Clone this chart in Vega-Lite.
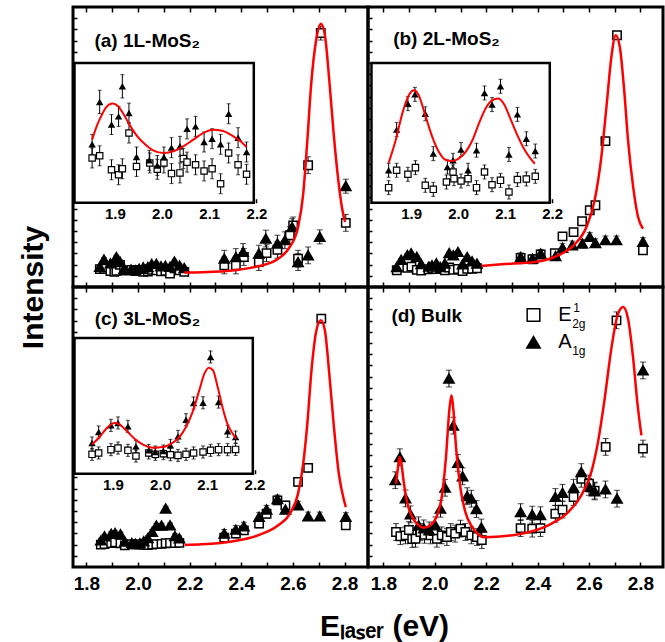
{
"$schema":"https://vega.github.io/schema/vega-lite/v6.json",
"padding":{"left":16,"top":4,"right":2,"bottom":0},
"config":{"font":"Liberation Sans","view":{"stroke":"black","strokeWidth":3},
"axis":{"domain":false,"grid":false,"tickColor":"black","tickWidth":1.5,"labelColor":"black","labelFont":"Liberation Sans","labelFontWeight":"bold","labelFontSize":19,"titleColor":"black","titleFont":"Liberation Sans","titleFontWeight":"bold"}},
"datasets":{
"a_pts":[
{"x":1.852,"y":7.21,"e":0.6,"m":"A"},{"x":1.868,"y":9.76,"e":0.7,"m":"A"},{"x":1.893,"y":8.40,"e":0.6,"m":"A"},{"x":1.908,"y":8.89,"e":0.6,"m":"A"},{"x":1.916,"y":10.70,"e":0.7,"m":"A"},{"x":1.930,"y":9.09,"e":0.6,"m":"A"},{"x":1.946,"y":6.45,"e":0.6,"m":"A"},{"x":1.973,"y":6.25,"e":0.6,"m":"A"},{"x":1.990,"y":5.94,"e":0.6,"m":"A"},{"x":2.004,"y":6.45,"e":0.6,"m":"A"},{"x":2.020,"y":7.01,"e":0.6,"m":"A"},{"x":2.038,"y":7.09,"e":0.6,"m":"A"},{"x":2.053,"y":8.14,"e":0.6,"m":"A"},{"x":2.071,"y":8.29,"e":0.6,"m":"A"},{"x":2.089,"y":7.35,"e":0.6,"m":"A"},{"x":2.106,"y":7.55,"e":0.6,"m":"A"},{"x":2.124,"y":7.21,"e":0.6,"m":"A"},{"x":2.141,"y":9.05,"e":0.6,"m":"A"},{"x":2.161,"y":7.61,"e":0.6,"m":"A"},{"x":2.179,"y":6.75,"e":0.6,"m":"A"},
{"x":1.852,"y":6.39,"e":0.6,"m":"E"},{"x":1.868,"y":6.52,"e":0.6,"m":"E"},{"x":1.893,"y":5.68,"e":0.6,"m":"E"},{"x":1.908,"y":5.38,"e":0.6,"m":"E"},{"x":1.916,"y":5.74,"e":0.6,"m":"E"},{"x":1.930,"y":7.89,"e":0.6,"m":"E"},{"x":1.946,"y":5.88,"e":0.6,"m":"E"},{"x":1.974,"y":6.09,"e":0.6,"m":"E"},{"x":1.990,"y":5.71,"e":0.6,"m":"E"},{"x":2.004,"y":6.09,"e":0.6,"m":"E"},{"x":2.020,"y":5.45,"e":0.6,"m":"E"},{"x":2.038,"y":5.49,"e":0.6,"m":"E"},{"x":2.045,"y":6.35,"e":0.6,"m":"E"},{"x":2.053,"y":6.14,"e":0.6,"m":"E"},{"x":2.071,"y":5.98,"e":0.6,"m":"E"},{"x":2.089,"y":5.61,"e":0.6,"m":"E"},{"x":2.106,"y":5.74,"e":0.6,"m":"E"},{"x":2.124,"y":4.84,"e":0.6,"m":"E"},{"x":2.141,"y":6.69,"e":0.6,"m":"E"},{"x":2.161,"y":5.98,"e":0.6,"m":"E"},{"x":2.179,"y":5.41,"e":0.6,"m":"E"},
{"x":2.334,"y":10.1,"e":3,"m":"A"},{"x":2.379,"y":10.7,"e":3,"m":"A"},{"x":2.407,"y":12.5,"e":3,"m":"A"},{"x":2.468,"y":11.9,"e":3,"m":"A"},{"x":2.495,"y":17.3,"e":3,"m":"A"},{"x":2.540,"y":15.5,"e":3,"m":"A"},{"x":2.569,"y":16.7,"e":3,"m":"A"},{"x":2.597,"y":21.4,"e":3,"m":"A"},{"x":2.620,"y":8.9,"e":3,"m":"A"},{"x":2.659,"y":11.3,"e":3,"m":"A"},{"x":2.704,"y":17.9,"e":2.5,"m":"A"},{"x":2.805,"y":36.0,"e":2.5,"m":"A"},
{"x":2.334,"y":7.7,"e":3,"m":"E"},{"x":2.379,"y":7.7,"e":3,"m":"E"},{"x":2.410,"y":10.7,"e":3,"m":"E"},{"x":2.468,"y":8.9,"e":3,"m":"E"},{"x":2.498,"y":12.1,"e":3,"m":"E"},{"x":2.540,"y":13.3,"e":3,"m":"E"},{"x":2.588,"y":18.5,"e":3,"m":"E"},{"x":2.601,"y":22.0,"e":3,"m":"E"},{"x":2.620,"y":10.1,"e":3,"m":"E"},{"x":2.659,"y":43.5,"e":3,"m":"E"},{"x":2.708,"y":90.7,"e":2.5,"m":"E"},{"x":2.805,"y":22.9,"e":3,"m":"E"}],
"a_fit":[{"x":2.18,"y":5.2},{"x":2.25,"y":5.3},{"x":2.375,"y":6.0},{"x":2.465,"y":7.4},{"x":2.543,"y":10.1},{"x":2.588,"y":14.3},{"x":2.620,"y":21.4},{"x":2.640,"y":33.3},{"x":2.656,"y":52.4},{"x":2.671,"y":72.6},{"x":2.690,"y":88.1},{"x":2.709,"y":94.0},{"x":2.725,"y":89.3},{"x":2.741,"y":73.8},{"x":2.758,"y":54.8},{"x":2.776,"y":38.1},{"x":2.792,"y":27.4},{"x":2.802,"y":23.2}],
"a_fit_in":[{"x":1.852,"y":7.49},{"x":1.861,"y":8.25},{"x":1.872,"y":8.95},{"x":1.882,"y":9.45},{"x":1.895,"y":9.66},{"x":1.907,"y":9.50},{"x":1.918,"y":9.05},{"x":1.932,"y":8.35},{"x":1.946,"y":7.75},{"x":1.964,"y":7.21},{"x":1.981,"y":6.85},{"x":2.004,"y":6.69},{"x":2.024,"y":6.79},{"x":2.045,"y":7.09},{"x":2.066,"y":7.49},{"x":2.087,"y":7.89},{"x":2.108,"y":8.09},{"x":2.129,"y":8.01},{"x":2.151,"y":7.69},{"x":2.168,"y":7.35},{"x":2.179,"y":7.05}],
"b_pts":[
{"x":1.852,"y":7.09,"e":0.45,"m":"A"},{"x":1.869,"y":9.71,"e":0.45,"m":"A"},{"x":1.893,"y":11.38,"e":0.45,"m":"A"},{"x":1.908,"y":11.98,"e":0.45,"m":"A"},{"x":1.930,"y":10.73,"e":0.45,"m":"A"},{"x":1.947,"y":8.16,"e":0.45,"m":"A"},{"x":1.977,"y":7.30,"e":0.45,"m":"A"},{"x":1.989,"y":7.73,"e":0.45,"m":"A"},{"x":2.006,"y":8.42,"e":0.45,"m":"A"},{"x":2.021,"y":7.09,"e":0.45,"m":"A"},{"x":2.039,"y":8.38,"e":0.45,"m":"A"},{"x":2.056,"y":12.07,"e":0.45,"m":"A"},{"x":2.072,"y":11.32,"e":0.45,"m":"A"},{"x":2.090,"y":12.50,"e":0.45,"m":"A"},{"x":2.108,"y":8.11,"e":0.45,"m":"A"},{"x":2.126,"y":10.69,"e":0.45,"m":"A"},{"x":2.145,"y":9.12,"e":0.45,"m":"A"},{"x":2.164,"y":8.33,"e":0.45,"m":"A"},
{"x":1.852,"y":5.97,"e":0.45,"m":"E"},{"x":1.869,"y":7.09,"e":0.45,"m":"E"},{"x":1.893,"y":6.83,"e":0.45,"m":"E"},{"x":1.909,"y":7.26,"e":0.45,"m":"E"},{"x":1.930,"y":6.12,"e":0.45,"m":"E"},{"x":1.947,"y":5.86,"e":0.45,"m":"E"},{"x":1.975,"y":6.33,"e":0.45,"m":"E"},{"x":1.989,"y":6.98,"e":0.45,"m":"E"},{"x":1.991,"y":6.55,"e":0.45,"m":"E"},{"x":2.006,"y":6.40,"e":0.45,"m":"E"},{"x":2.021,"y":6.55,"e":0.45,"m":"E"},{"x":2.039,"y":5.97,"e":0.45,"m":"E"},{"x":2.056,"y":6.98,"e":0.45,"m":"E"},{"x":2.072,"y":6.16,"e":0.45,"m":"E"},{"x":2.090,"y":6.44,"e":0.45,"m":"E"},{"x":2.108,"y":5.69,"e":0.45,"m":"E"},{"x":2.126,"y":6.49,"e":0.45,"m":"E"},{"x":2.145,"y":6.53,"e":0.45,"m":"E"},{"x":2.164,"y":6.70,"e":0.45,"m":"E"},
{"x":2.334,"y":10.7,"e":1.5,"m":"A"},{"x":2.380,"y":10.1,"e":1.5,"m":"A"},{"x":2.412,"y":11.9,"e":1.5,"m":"A"},{"x":2.470,"y":11.0,"e":1.5,"m":"A"},{"x":2.497,"y":14.0,"e":1.5,"m":"A"},{"x":2.535,"y":14.9,"e":1.5,"m":"A"},{"x":2.574,"y":15.5,"e":1.5,"m":"A"},{"x":2.603,"y":17.9,"e":1.5,"m":"A"},{"x":2.625,"y":15.7,"e":1.5,"m":"A"},{"x":2.664,"y":16.7,"e":1.5,"m":"A"},{"x":2.707,"y":16.7,"e":1.5,"m":"A"},{"x":2.810,"y":16.1,"e":1.5,"m":"A"},
{"x":2.334,"y":10.4,"e":1.2,"m":"E"},{"x":2.380,"y":9.9,"e":1.2,"m":"E"},{"x":2.412,"y":11.6,"e":1.2,"m":"E"},{"x":2.467,"y":12.1,"e":1.2,"m":"E"},{"x":2.497,"y":18.1,"e":1.2,"m":"E"},{"x":2.540,"y":19.6,"e":1.2,"m":"E"},{"x":2.573,"y":23.5,"e":1.2,"m":"E"},{"x":2.603,"y":27.4,"e":1.2,"m":"E"},{"x":2.625,"y":29.2,"e":1.2,"m":"E"},{"x":2.664,"y":52.1,"e":1.2,"m":"E"},{"x":2.709,"y":89.9,"e":1.2,"m":"E"},{"x":2.810,"y":13.1,"e":1.2,"m":"E"}],
"b_fit":[{"x":2.181,"y":7.5},{"x":2.259,"y":8.1},{"x":2.389,"y":8.9},{"x":2.480,"y":11.3},{"x":2.544,"y":15.2},{"x":2.590,"y":21.4},{"x":2.622,"y":31.0},{"x":2.648,"y":46.4},{"x":2.668,"y":64.3},{"x":2.687,"y":82.1},{"x":2.704,"y":89.9},{"x":2.720,"y":85.7},{"x":2.737,"y":70.2},{"x":2.752,"y":52.4},{"x":2.772,"y":35.7},{"x":2.791,"y":25.0},{"x":2.810,"y":20.8}],
"b_fit_in":[{"x":1.852,"y":7.56},{"x":1.867,"y":9.02},{"x":1.881,"y":10.74},{"x":1.895,"y":11.92},{"x":1.906,"y":12.24},{"x":1.916,"y":11.92},{"x":1.930,"y":10.63},{"x":1.945,"y":9.23},{"x":1.959,"y":8.27},{"x":1.973,"y":7.77},{"x":1.987,"y":7.69},{"x":2.001,"y":7.84},{"x":2.016,"y":8.27},{"x":2.030,"y":9.01},{"x":2.044,"y":10.09},{"x":2.058,"y":11.06},{"x":2.072,"y":11.60},{"x":2.085,"y":11.71},{"x":2.097,"y":11.38},{"x":2.111,"y":10.42},{"x":2.126,"y":9.34},{"x":2.140,"y":8.48},{"x":2.154,"y":7.84},{"x":2.163,"y":7.51}],
"c_pts":[
{"x":1.856,"y":9.47,"e":0.8,"m":"A"},{"x":1.870,"y":10.93,"e":0.8,"m":"A"},{"x":1.896,"y":11.81,"e":0.8,"m":"A"},{"x":1.911,"y":12.13,"e":0.8,"m":"A"},{"x":1.932,"y":11.68,"e":0.8,"m":"A"},{"x":1.949,"y":9.02,"e":0.8,"m":"A"},{"x":1.976,"y":8.50,"e":0.8,"m":"A"},{"x":1.990,"y":8.28,"e":0.8,"m":"A"},{"x":2.007,"y":8.41,"e":0.8,"m":"A"},{"x":2.022,"y":9.16,"e":0.8,"m":"A"},{"x":2.038,"y":10.35,"e":0.8,"m":"A"},{"x":2.055,"y":12.56,"e":0.8,"m":"A"},{"x":2.071,"y":14.78,"e":0.8,"m":"A"},{"x":2.091,"y":14.81,"e":0.8,"m":"A"},{"x":2.107,"y":20.88,"e":0.8,"m":"A"},{"x":2.124,"y":14.90,"e":0.8,"m":"A"},{"x":2.143,"y":11.02,"e":0.8,"m":"A"},{"x":2.160,"y":10.26,"e":0.8,"m":"A"},
{"x":1.856,"y":7.97,"e":0.8,"m":"E"},{"x":1.870,"y":8.15,"e":0.8,"m":"E"},{"x":1.896,"y":8.59,"e":0.8,"m":"E"},{"x":1.911,"y":8.80,"e":0.8,"m":"E"},{"x":1.932,"y":8.50,"e":0.8,"m":"E"},{"x":1.949,"y":7.74,"e":0.8,"m":"E"},{"x":1.976,"y":8.15,"e":0.8,"m":"E"},{"x":1.990,"y":7.97,"e":0.8,"m":"E"},{"x":2.007,"y":8.06,"e":0.8,"m":"E"},{"x":2.022,"y":7.92,"e":0.8,"m":"E"},{"x":2.038,"y":7.83,"e":0.8,"m":"E"},{"x":2.055,"y":7.97,"e":0.8,"m":"E"},{"x":2.071,"y":8.15,"e":0.8,"m":"E"},{"x":2.091,"y":8.28,"e":0.8,"m":"E"},{"x":2.107,"y":8.50,"e":0.8,"m":"E"},{"x":2.124,"y":8.59,"e":0.8,"m":"E"},{"x":2.143,"y":8.59,"e":0.8,"m":"E"},{"x":2.160,"y":8.62,"e":0.8,"m":"E"},
{"x":2.334,"y":11.9,"e":1.5,"m":"A"},{"x":2.379,"y":13.3,"e":1.5,"m":"A"},{"x":2.410,"y":14.5,"e":1.5,"m":"A"},{"x":2.469,"y":17.9,"e":1.5,"m":"A"},{"x":2.498,"y":20.5,"e":1.5,"m":"A"},{"x":2.540,"y":24.2,"e":1.5,"m":"A"},{"x":2.571,"y":20.5,"e":1.5,"m":"A"},{"x":2.620,"y":22.0,"e":1.5,"m":"A"},{"x":2.659,"y":18.1,"e":1.5,"m":"A"},{"x":2.704,"y":18.1,"e":1.5,"m":"A"},{"x":2.805,"y":17.9,"e":1.5,"m":"A"},
{"x":2.334,"y":10.5,"e":1.5,"m":"E"},{"x":2.379,"y":11.9,"e":1.5,"m":"E"},{"x":2.410,"y":13.1,"e":1.5,"m":"E"},{"x":2.469,"y":15.5,"e":1.5,"m":"E"},{"x":2.498,"y":19.0,"e":1.5,"m":"E"},{"x":2.540,"y":23.8,"e":1.5,"m":"E"},{"x":2.571,"y":22.0,"e":1.5,"m":"E"},{"x":2.620,"y":30.4,"e":1.5,"m":"E"},{"x":2.659,"y":35.4,"e":1.5,"m":"E"},{"x":2.710,"y":88.7,"e":1.5,"m":"E"},{"x":2.805,"y":14.9,"e":1.5,"m":"E"}],
"c_fit":[{"x":2.181,"y":7.9},{"x":2.246,"y":8.1},{"x":2.375,"y":9.3},{"x":2.465,"y":11.3},{"x":2.543,"y":14.9},{"x":2.588,"y":19.0},{"x":2.620,"y":26.2},{"x":2.640,"y":36.9},{"x":2.657,"y":52.4},{"x":2.672,"y":70.2},{"x":2.691,"y":84.5},{"x":2.708,"y":88.1},{"x":2.724,"y":84.5},{"x":2.741,"y":69.0},{"x":2.759,"y":50.0},{"x":2.778,"y":33.3},{"x":2.795,"y":25.0},{"x":2.805,"y":21.4}],
"c_fit_in":[{"x":1.856,"y":9.29},{"x":1.872,"y":10.27},{"x":1.886,"y":11.37},{"x":1.904,"y":12.12},{"x":1.914,"y":11.95},{"x":1.928,"y":11.16},{"x":1.946,"y":10.04},{"x":1.964,"y":9.25},{"x":1.985,"y":8.85},{"x":2.006,"y":8.94},{"x":2.024,"y":9.38},{"x":2.041,"y":10.27},{"x":2.055,"y":11.59},{"x":2.069,"y":13.59},{"x":2.083,"y":16.45},{"x":2.094,"y":18.67},{"x":2.103,"y":19.46},{"x":2.112,"y":19.12},{"x":2.122,"y":16.90},{"x":2.133,"y":14.02},{"x":2.143,"y":11.95},{"x":2.154,"y":10.71},{"x":2.161,"y":10.04}],
"d_pts":[
{"x":1.846,"y":31.0,"e":3,"m":"A"},{"x":1.864,"y":39.2,"e":3,"m":"A"},{"x":1.886,"y":24.5,"e":3,"m":"A"},{"x":1.905,"y":18.8,"e":3,"m":"A"},{"x":1.937,"y":14.9,"e":3,"m":"A"},{"x":1.957,"y":13.8,"e":3,"m":"A"},{"x":1.978,"y":13.1,"e":3,"m":"A"},{"x":2.002,"y":14.9,"e":3,"m":"A"},{"x":2.022,"y":20.8,"e":3,"m":"A"},{"x":2.040,"y":28.3,"e":3,"m":"A"},{"x":2.055,"y":67.3,"e":3,"m":"A"},{"x":2.072,"y":50.5,"e":3,"m":"A"},{"x":2.090,"y":37.2,"e":3,"m":"A"},{"x":2.108,"y":32.4,"e":3,"m":"A"},{"x":2.126,"y":25.3,"e":3,"m":"A"},{"x":2.142,"y":24.4,"e":3,"m":"A"},{"x":2.162,"y":20.7,"e":3,"m":"A"},{"x":2.181,"y":14.1,"e":3,"m":"A"},
{"x":1.849,"y":12.5,"e":3,"m":"E"},{"x":1.866,"y":11.0,"e":3,"m":"E"},{"x":1.886,"y":11.3,"e":3,"m":"E"},{"x":1.899,"y":13.2,"e":3,"m":"E"},{"x":1.912,"y":10.0,"e":3,"m":"E"},{"x":1.925,"y":10.1,"e":3,"m":"E"},{"x":1.944,"y":12.5,"e":3,"m":"E"},{"x":1.960,"y":11.5,"e":3,"m":"E"},{"x":1.983,"y":11.3,"e":3,"m":"E"},{"x":1.995,"y":12.8,"e":3,"m":"E"},{"x":2.008,"y":10.1,"e":3,"m":"E"},{"x":2.027,"y":11.3,"e":3,"m":"E"},{"x":2.047,"y":10.7,"e":3,"m":"E"},{"x":2.062,"y":12.5,"e":3,"m":"E"},{"x":2.079,"y":11.9,"e":3,"m":"E"},{"x":2.100,"y":13.7,"e":3,"m":"E"},{"x":2.119,"y":12.5,"e":3,"m":"E"},{"x":2.142,"y":11.3,"e":3,"m":"E"},{"x":2.164,"y":10.7,"e":3,"m":"E"},{"x":2.183,"y":9.6,"e":3,"m":"E"},
{"x":2.334,"y":19.6,"e":3,"m":"A"},{"x":2.379,"y":18.7,"e":3,"m":"A"},{"x":2.411,"y":18.5,"e":3,"m":"A"},{"x":2.469,"y":25.0,"e":3,"m":"A"},{"x":2.497,"y":26.5,"e":3,"m":"A"},{"x":2.540,"y":28.3,"e":3,"m":"A"},{"x":2.570,"y":33.9,"e":3,"m":"A"},{"x":2.600,"y":28.6,"e":3,"m":"A"},{"x":2.622,"y":27.0,"e":3,"m":"A"},{"x":2.664,"y":27.7,"e":3,"m":"A"},{"x":2.709,"y":24.4,"e":3,"m":"A"},{"x":2.810,"y":70.2,"e":3,"m":"A"},
{"x":2.334,"y":13.9,"e":3,"m":"E"},{"x":2.379,"y":13.7,"e":3,"m":"E"},{"x":2.411,"y":13.9,"e":3,"m":"E"},{"x":2.469,"y":19.0,"e":3,"m":"E"},{"x":2.497,"y":20.5,"e":3,"m":"E"},{"x":2.540,"y":25.0,"e":3,"m":"E"},{"x":2.570,"y":31.5,"e":3,"m":"E"},{"x":2.600,"y":29.8,"e":3,"m":"E"},{"x":2.622,"y":27.3,"e":3,"m":"E"},{"x":2.665,"y":42.9,"e":3,"m":"E"},{"x":2.707,"y":88.1,"e":3,"m":"E"},{"x":2.810,"y":42.3,"e":3,"m":"E"}],
"d_fit":[{"x":1.849,"y":29.8},{"x":1.856,"y":35.1},{"x":1.863,"y":39.3},{"x":1.869,"y":37.5},{"x":1.879,"y":30.4},{"x":1.892,"y":23.2},{"x":1.912,"y":17.9},{"x":1.937,"y":14.9},{"x":1.957,"y":14.0},{"x":1.983,"y":14.9},{"x":2.009,"y":18.5},{"x":2.028,"y":25.6},{"x":2.044,"y":39.9},{"x":2.057,"y":56.5},{"x":2.065,"y":61.3},{"x":2.072,"y":56.5},{"x":2.083,"y":42.3},{"x":2.100,"y":28.0},{"x":2.119,"y":19.6},{"x":2.145,"y":14.3},{"x":2.171,"y":11.5},{"x":2.19,"y":10.6},{"x":2.337,"y":11.9},{"x":2.441,"y":14.9},{"x":2.519,"y":19.6},{"x":2.570,"y":25.6},{"x":2.609,"y":33.9},{"x":2.635,"y":44.6},{"x":2.661,"y":60.1},{"x":2.687,"y":78.0},{"x":2.713,"y":90.5},{"x":2.733,"y":92.9},{"x":2.752,"y":88.7},{"x":2.772,"y":74.4},{"x":2.788,"y":58.9},{"x":2.804,"y":47.0}]
},
"columns":2,"spacing":0,"bounds":"flush",
"concat":[
{"width":295,"height":280,"resolve":{"scale":{"x":"independent","y":"independent"}},
"layer":[
{"encoding":{"x":{"field":"x","type":"quantitative","scale":{"domain":[1.748,2.891],"nice":false,"zero":false},"axis":{"orient":"bottom","values":[1.8,1.9,2.0,2.1,2.2,2.3,2.4,2.5,2.6,2.7,2.8],"labels":false,"tickSize":-5,"title":null}},
"y":{"field":"y","type":"quantitative","scale":{"domain":[0,100],"nice":false,"zero":false},"axis":{"orient":"left","values":[4,8,12,16,20,24,28,32,36,40,44,48,52,56,60,64,68,72,76,80,84,88,92,96],"labels":false,"tickSize":-4,"title":null}}},
"layer":[
{"data":{"name":"a_pts"},"mark":{"type":"errorbar","ticks":{"size":6},"color":"black","thickness":1},"encoding":{"yError":{"field":"e"}}},
{"data":{"name":"a_pts"},"transform":[{"filter":"datum.m=='E'"}],"mark":{"type":"point","shape":"square","filled":true,"fill":"white","stroke":"black","strokeWidth":1.5,"size":70,"opacity":1}},
{"data":{"name":"a_pts"},"transform":[{"filter":"datum.m=='A'"}],"mark":{"type":"point","shape":"triangle-up","filled":true,"fill":"black","stroke":"black","size":90,"opacity":1}},
{"data":{"name":"a_fit"},"mark":{"type":"line","color":"#ff0000","strokeWidth":2.5,"interpolate":"monotone"}}]},
{"data":{"values":[{}]},"mark":{"type":"text","text":"(a) 1L-MoS₂","align":"left","baseline":"alphabetic","fontSize":19,"fontWeight":"bold","color":"black"},"encoding":{"x":{"datum":1.831,"type":"quantitative","scale":{"domain":[1.748,2.891],"nice":false,"zero":false},"axis":null},"y":{"datum":85.7,"type":"quantitative","scale":{"domain":[0,100],"nice":false,"zero":false},"axis":null}}},
{"data":{"values":[{}]},"mark":{"type":"point","opacity":0},"encoding":{"x":{"datum":2.0,"type":"quantitative","scale":{"domain":[1.748,2.891],"nice":false,"zero":false},"axis":{"orient":"top","values":[1.8,1.9,2.0,2.1,2.2,2.3,2.4,2.5,2.6,2.7,2.8],"labels":false,"tickSize":-5,"title":null}}}},
{"data":{"values":[{}]},"mark":{"type":"rect","fill":"white","stroke":"black","strokeWidth":2.5},"encoding":{"x":{"datum":1.8147,"type":"quantitative","scale":{"domain":[1.8115,2.4361],"nice":false,"zero":false},"axis":null},"x2":{"datum":2.1943},"y":{"datum":3.7,"type":"quantitative","scale":{"domain":[-1.369,15.468],"nice":false,"zero":false},"axis":null},"y2":{"datum":12.1}}},
{"encoding":{"x":{"field":"x","type":"quantitative","scale":{"domain":[1.8115,2.4361],"nice":false,"zero":false},"axis":{"orient":"bottom","offset":-84.3,"values":[1.9,2.0,2.1,2.2],"format":".1f","tickSize":-4,"labelPadding":8,"labelFontSize":15,"labelFlush":false,"title":null}},
"y":{"field":"y","type":"quantitative","scale":{"domain":[-1.369,15.468],"nice":false,"zero":false},"axis":null}},
"layer":[
{"data":{"name":"a_pts"},"transform":[{"filter":"datum.x<2.2"}],"mark":{"type":"errorbar","ticks":{"size":4},"color":"black","thickness":1},"encoding":{"yError":{"field":"e"}}},
{"data":{"name":"a_pts"},"transform":[{"filter":"datum.x<2.2 && datum.m=='E'"}],"mark":{"type":"point","shape":"square","filled":true,"fill":"white","stroke":"black","strokeWidth":1.2,"size":40,"opacity":1}},
{"data":{"name":"a_pts"},"transform":[{"filter":"datum.x<2.2 && datum.m=='A'"}],"mark":{"type":"point","shape":"triangle-up","filled":true,"fill":"black","size":55,"opacity":1}},
{"data":{"name":"a_fit_in"},"mark":{"type":"line","color":"#ff0000","strokeWidth":2,"interpolate":"monotone"}}]}]},
{"width":295,"height":280,"resolve":{"scale":{"x":"independent","y":"independent"}},
"layer":[
{"encoding":{"x":{"field":"x","type":"quantitative","scale":{"domain":[1.740,2.888],"nice":false,"zero":false},"axis":{"orient":"bottom","values":[1.8,1.9,2.0,2.1,2.2,2.3,2.4,2.5,2.6,2.7,2.8],"labels":false,"tickSize":-5,"title":null}},
"y":{"field":"y","type":"quantitative","scale":{"domain":[0,100],"nice":false,"zero":false},"axis":{"orient":"left","values":[4,8,12,16,20,24,28,32,36,40,44,48,52,56,60,64,68,72,76,80,84,88,92,96],"labels":false,"tickSize":-4,"title":null}}},
"layer":[
{"data":{"name":"b_pts"},"mark":{"type":"errorbar","ticks":{"size":6},"color":"black","thickness":1},"encoding":{"yError":{"field":"e"}}},
{"data":{"name":"b_pts"},"transform":[{"filter":"datum.m=='E'"}],"mark":{"type":"point","shape":"square","filled":true,"fill":"white","stroke":"black","strokeWidth":1.5,"size":70,"opacity":1}},
{"data":{"name":"b_pts"},"transform":[{"filter":"datum.m=='A'"}],"mark":{"type":"point","shape":"triangle-up","filled":true,"fill":"black","stroke":"black","size":90,"opacity":1}},
{"data":{"name":"b_fit"},"mark":{"type":"line","color":"#ff0000","strokeWidth":2.5,"interpolate":"monotone"}}]},
{"data":{"values":[{}]},"mark":{"type":"text","text":"(b) 2L-MoS₂","align":"left","baseline":"alphabetic","fontSize":19,"fontWeight":"bold","color":"black"},"encoding":{"x":{"datum":1.838,"type":"quantitative","scale":{"domain":[1.740,2.888],"nice":false,"zero":false},"axis":null},"y":{"datum":86.4,"type":"quantitative","scale":{"domain":[0,100],"nice":false,"zero":false},"axis":null}}},
{"data":{"values":[{}]},"mark":{"type":"point","opacity":0},"encoding":{"x":{"datum":2.0,"type":"quantitative","scale":{"domain":[1.740,2.888],"nice":false,"zero":false},"axis":{"orient":"top","values":[1.8,1.9,2.0,2.1,2.2,2.3,2.4,2.5,2.6,2.7,2.8],"labels":false,"tickSize":-5,"title":null}}}},
{"data":{"values":[{}]},"mark":{"type":"rect","fill":"white","stroke":"black","strokeWidth":2.5},"encoding":{"x":{"datum":1.8155,"type":"quantitative","scale":{"domain":[1.8081,2.4358],"nice":false,"zero":false},"axis":null},"x2":{"datum":2.1949},"y":{"datum":5.0,"type":"quantitative","scale":{"domain":[-0.431,17.608],"nice":false,"zero":false},"axis":null},"y2":{"datum":14.0}}},
{"encoding":{"x":{"field":"x","type":"quantitative","scale":{"domain":[1.8081,2.4358],"nice":false,"zero":false},"axis":{"orient":"bottom","offset":-84.3,"values":[1.9,2.0,2.1,2.2],"format":".1f","tickSize":-4,"labelPadding":8,"labelFontSize":15,"labelFlush":false,"title":null}},
"y":{"field":"y","type":"quantitative","scale":{"domain":[-0.431,17.608],"nice":false,"zero":false},"axis":null}},
"layer":[
{"data":{"name":"b_pts"},"transform":[{"filter":"datum.x<2.2"}],"mark":{"type":"errorbar","ticks":{"size":4},"color":"black","thickness":1},"encoding":{"yError":{"field":"e"}}},
{"data":{"name":"b_pts"},"transform":[{"filter":"datum.x<2.2 && datum.m=='E'"}],"mark":{"type":"point","shape":"square","filled":true,"fill":"white","stroke":"black","strokeWidth":1.2,"size":40,"opacity":1}},
{"data":{"name":"b_pts"},"transform":[{"filter":"datum.x<2.2 && datum.m=='A'"}],"mark":{"type":"point","shape":"triangle-up","filled":true,"fill":"black","size":55,"opacity":1}},
{"data":{"name":"b_fit_in"},"mark":{"type":"line","color":"#ff0000","strokeWidth":2,"interpolate":"monotone"}}]}]},
{"width":295,"height":280,"resolve":{"scale":{"x":"independent","y":"independent"}},
"layer":[
{"encoding":{"x":{"field":"x","type":"quantitative","scale":{"domain":[1.748,2.891],"nice":false,"zero":false},"axis":{"orient":"bottom","values":[1.8,1.9,2.0,2.1,2.2,2.3,2.4,2.5,2.6,2.7,2.8],"labelExpr":"round(datum.value*10)%2==0 ? format(datum.value,'.1f') : ''","tickSize":-5,"labelPadding":12,"labelFlush":false,"labelOverlap":false,"title":"Eₗₐₛₑᵣ (eV)","titleX":311,"titleY":68,"titleAlign":"center","titleBaseline":"alphabetic","titleFontSize":30}},
"y":{"field":"y","type":"quantitative","scale":{"domain":[0,100],"nice":false,"zero":false},"axis":{"orient":"left","values":[4,8,12,16,20,24,28,32,36,40,44,48,52,56,60,64,68,72,76,80,84,88,92,96],"labels":false,"tickSize":-4,"title":"Intensity","titleAngle":-90,"titleX":-40,"titleY":0,"titleAlign":"center","titleBaseline":"middle","titleFontSize":30}}},
"layer":[
{"data":{"name":"c_pts"},"mark":{"type":"errorbar","ticks":{"size":6},"color":"black","thickness":1},"encoding":{"yError":{"field":"e"}}},
{"data":{"name":"c_pts"},"transform":[{"filter":"datum.m=='E'"}],"mark":{"type":"point","shape":"square","filled":true,"fill":"white","stroke":"black","strokeWidth":1.5,"size":70,"opacity":1}},
{"data":{"name":"c_pts"},"transform":[{"filter":"datum.m=='A'"}],"mark":{"type":"point","shape":"triangle-up","filled":true,"fill":"black","stroke":"black","size":90,"opacity":1}},
{"data":{"name":"c_fit"},"mark":{"type":"line","color":"#ff0000","strokeWidth":2.5,"interpolate":"monotone"}}]},
{"data":{"values":[{}]},"mark":{"type":"text","text":"(c) 3L-MoS₂","align":"left","baseline":"alphabetic","fontSize":19,"fontWeight":"bold","color":"black"},"encoding":{"x":{"datum":1.832,"type":"quantitative","scale":{"domain":[1.748,2.891],"nice":false,"zero":false},"axis":null},"y":{"datum":86.3,"type":"quantitative","scale":{"domain":[0,100],"nice":false,"zero":false},"axis":null}}},
{"data":{"values":[{}]},"mark":{"type":"point","opacity":0},"encoding":{"x":{"datum":2.0,"type":"quantitative","scale":{"domain":[1.748,2.891],"nice":false,"zero":false},"axis":{"orient":"top","values":[1.8,1.9,2.0,2.1,2.2,2.3,2.4,2.5,2.6,2.7,2.8],"labels":false,"tickSize":-5,"title":null}}}},
{"data":{"values":[{}]},"mark":{"type":"rect","fill":"white","stroke":"black","strokeWidth":2.5},"encoding":{"x":{"datum":1.8189,"type":"quantitative","scale":{"domain":[1.8157,2.4403],"nice":false,"zero":false},"axis":null},"x2":{"datum":2.1964},"y":{"datum":5.4,"type":"quantitative","scale":{"domain":[-6.975,30.164],"nice":false,"zero":false},"axis":null},"y2":{"datum":23.4}}},
{"encoding":{"x":{"field":"x","type":"quantitative","scale":{"domain":[1.8157,2.4403],"nice":false,"zero":false},"axis":{"orient":"bottom","offset":-93.3,"values":[1.9,2.0,2.1,2.2],"format":".1f","tickSize":-4,"labelPadding":8,"labelFontSize":15,"labelFlush":false,"title":null}},
"y":{"field":"y","type":"quantitative","scale":{"domain":[-6.975,30.164],"nice":false,"zero":false},"axis":null}},
"layer":[
{"data":{"name":"c_pts"},"transform":[{"filter":"datum.x<2.2"}],"mark":{"type":"errorbar","ticks":{"size":4},"color":"black","thickness":1},"encoding":{"yError":{"field":"e"}}},
{"data":{"name":"c_pts"},"transform":[{"filter":"datum.x<2.2 && datum.m=='E'"}],"mark":{"type":"point","shape":"square","filled":true,"fill":"white","stroke":"black","strokeWidth":1.2,"size":40,"opacity":1}},
{"data":{"name":"c_pts"},"transform":[{"filter":"datum.x<2.2 && datum.m=='A'"}],"mark":{"type":"point","shape":"triangle-up","filled":true,"fill":"black","size":55,"opacity":1}},
{"data":{"name":"c_fit_in"},"mark":{"type":"line","color":"#ff0000","strokeWidth":2,"interpolate":"monotone"}}]}]},
{"width":295,"height":280,"resolve":{"scale":{"x":"independent","y":"independent"}},
"layer":[
{"encoding":{"x":{"field":"x","type":"quantitative","scale":{"domain":[1.740,2.888],"nice":false,"zero":false},"axis":{"orient":"bottom","values":[1.8,1.9,2.0,2.1,2.2,2.3,2.4,2.5,2.6,2.7,2.8],"labelExpr":"round(datum.value*10)%2==0 ? format(datum.value,'.1f') : ''","tickSize":-5,"labelPadding":12,"labelFlush":false,"labelOverlap":false,"title":null}},
"y":{"field":"y","type":"quantitative","scale":{"domain":[0,100],"nice":false,"zero":false},"axis":{"orient":"left","values":[4,8,12,16,20,24,28,32,36,40,44,48,52,56,60,64,68,72,76,80,84,88,92,96],"labels":false,"tickSize":-4,"title":null}}},
"layer":[
{"data":{"name":"d_pts"},"mark":{"type":"errorbar","ticks":{"size":6},"color":"black","thickness":1},"encoding":{"yError":{"field":"e"}}},
{"data":{"name":"d_pts"},"transform":[{"filter":"datum.m=='E'"}],"mark":{"type":"point","shape":"square","filled":true,"fill":"white","stroke":"black","strokeWidth":1.5,"size":70,"opacity":1}},
{"data":{"name":"d_pts"},"transform":[{"filter":"datum.m=='A'"}],"mark":{"type":"point","shape":"triangle-up","filled":true,"fill":"black","stroke":"black","size":90,"opacity":1}},
{"data":{"name":"d_fit"},"mark":{"type":"line","color":"#ff0000","strokeWidth":2.5,"interpolate":"monotone"}}]},
{"data":{"values":[{}]},"mark":{"type":"point","opacity":0},"encoding":{"x":{"datum":2.0,"type":"quantitative","scale":{"domain":[1.740,2.888],"nice":false,"zero":false},"axis":{"orient":"top","values":[1.8,1.9,2.0,2.1,2.2,2.3,2.4,2.5,2.6,2.7,2.8],"labels":false,"tickSize":-5,"title":null}}}},
{"data":{"values":[{}]},"mark":{"type":"text","text":"(d) Bulk","align":"left","baseline":"alphabetic","fontSize":19,"fontWeight":"bold","color":"black"},"encoding":{"x":{"datum":1.831,"type":"quantitative","scale":{"domain":[1.740,2.888],"nice":false,"zero":false},"axis":null},"y":{"datum":87.5,"type":"quantitative","scale":{"domain":[0,100],"nice":false,"zero":false},"axis":null}}},
{"data":{"values":[{}]},"mark":{"type":"point","shape":"square","filled":true,"fill":"white","stroke":"black","strokeWidth":1.5,"size":160,"opacity":1},"encoding":{"x":{"datum":2.384,"type":"quantitative","scale":{"domain":[1.740,2.888],"nice":false,"zero":false},"axis":null},"y":{"datum":90,"type":"quantitative","scale":{"domain":[0,100],"nice":false,"zero":false},"axis":null}}},
{"data":{"values":[{}]},"mark":{"type":"point","shape":"triangle-up","filled":true,"fill":"black","size":260,"opacity":1},"encoding":{"x":{"datum":2.384,"type":"quantitative","scale":{"domain":[1.740,2.888],"nice":false,"zero":false},"axis":null},"y":{"datum":80.4,"type":"quantitative","scale":{"domain":[0,100],"nice":false,"zero":false},"axis":null}}},
{"data":{"values":[{}]},"mark":{"type":"text","text":"E","align":"left","baseline":"middle","fontSize":20,"color":"black"},"encoding":{"x":{"datum":2.48,"type":"quantitative","scale":{"domain":[1.740,2.888],"nice":false,"zero":false},"axis":null},"y":{"datum":90,"type":"quantitative","scale":{"domain":[0,100],"nice":false,"zero":false},"axis":null}}},
{"data":{"values":[{}]},"mark":{"type":"text","text":"1","align":"left","baseline":"middle","fontSize":12,"dx":15,"dy":-7,"color":"black"},"encoding":{"x":{"datum":2.48,"type":"quantitative","scale":{"domain":[1.740,2.888],"nice":false,"zero":false},"axis":null},"y":{"datum":90,"type":"quantitative","scale":{"domain":[0,100],"nice":false,"zero":false},"axis":null}}},
{"data":{"values":[{}]},"mark":{"type":"text","text":"2g","align":"left","baseline":"middle","fontSize":12,"dx":14,"dy":9,"color":"black"},"encoding":{"x":{"datum":2.48,"type":"quantitative","scale":{"domain":[1.740,2.888],"nice":false,"zero":false},"axis":null},"y":{"datum":90,"type":"quantitative","scale":{"domain":[0,100],"nice":false,"zero":false},"axis":null}}},
{"data":{"values":[{}]},"mark":{"type":"text","text":"A","align":"left","baseline":"middle","fontSize":20,"color":"black"},"encoding":{"x":{"datum":2.48,"type":"quantitative","scale":{"domain":[1.740,2.888],"nice":false,"zero":false},"axis":null},"y":{"datum":80.4,"type":"quantitative","scale":{"domain":[0,100],"nice":false,"zero":false},"axis":null}}},
{"data":{"values":[{}]},"mark":{"type":"text","text":"1g","align":"left","baseline":"middle","fontSize":12,"dx":14,"dy":9,"color":"black"},"encoding":{"x":{"datum":2.48,"type":"quantitative","scale":{"domain":[1.740,2.888],"nice":false,"zero":false},"axis":null},"y":{"datum":80.4,"type":"quantitative","scale":{"domain":[0,100],"nice":false,"zero":false},"axis":null}}}]}
]}
